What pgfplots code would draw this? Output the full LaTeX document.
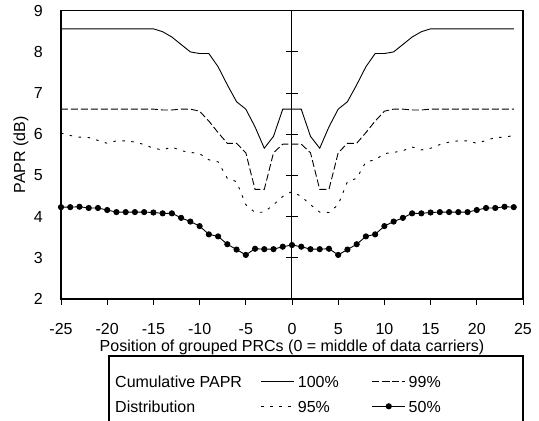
\documentclass[border=0pt]{standalone}
\usepackage{fontspec}
\setmainfont{Liberation Sans}
\usepackage{pgfplots}
\usepackage{pgfplotstable}
\pgfplotsset{compat=1.18}

% cumulative PAPR (dB) per position of the grouped PRCs
\pgfplotstableread{
x   p100 p99  p95  p50
-25 8.56 6.61 6.03 4.23
-24 8.56 6.61 5.97 4.23
-23 8.56 6.61 5.93 4.24
-22 8.56 6.61 5.92 4.21
-21 8.56 6.61 5.85 4.21
-20 8.56 6.61 5.78 4.16
-19 8.56 6.61 5.84 4.11
-18 8.56 6.61 5.84 4.11
-17 8.56 6.61 5.81 4.11
-16 8.56 6.61 5.75 4.11
-15 8.56 6.61 5.66 4.10
-14 8.49 6.59 5.62 4.08
-13 8.36 6.59 5.69 4.08
-12 8.18 6.61 5.60 3.97
-11 8.00 6.61 5.56 3.88
-10 7.96 6.56 5.53 3.77
-9  7.96 6.32 5.38 3.57
-8  7.64 6.04 5.33 3.52
-7  7.20 5.78 4.93 3.33
-6  6.79 5.78 4.85 3.20
-5  6.61 5.55 4.29 3.07
-4  6.18 4.66 4.10 3.22
-3  5.66 4.66 4.11 3.21
-2  5.95 5.55 4.29 3.21
-1  6.61 5.76 4.49 3.27
0   6.61 5.76 4.61 3.31
1   6.61 5.76 4.49 3.27
2   5.95 5.55 4.29 3.21
3   5.66 4.66 4.11 3.21
4   6.18 4.66 4.10 3.22
5   6.61 5.55 4.29 3.07
6   6.79 5.78 4.85 3.20
7   7.20 5.78 4.93 3.33
8   7.64 6.04 5.33 3.52
9   7.96 6.32 5.38 3.57
10  7.96 6.56 5.53 3.77
11  8.00 6.61 5.56 3.88
12  8.18 6.61 5.60 3.97
13  8.36 6.59 5.69 4.08
14  8.49 6.59 5.62 4.08
15  8.56 6.61 5.66 4.10
16  8.56 6.61 5.75 4.11
17  8.56 6.61 5.81 4.11
18  8.56 6.61 5.84 4.11
19  8.56 6.61 5.84 4.11
20  8.56 6.61 5.78 4.16
21  8.56 6.61 5.85 4.21
22  8.56 6.61 5.92 4.21
23  8.56 6.61 5.93 4.24
24  8.56 6.61 5.97 4.23
}\paprdata

\begin{document}
\fontsize{16}{19}\selectfont
\begin{tikzpicture}
\useasboundingbox (0,0) rectangle (539pt,421pt);
\begin{axis}[
  at={(61pt,122pt)}, anchor=south west,
  scale only axis, width=462pt, height=288.3pt,
  xmin=-25, xmax=25, ymin=2, ymax=9,
  xtick={-25,-20,...,25}, ytick={2,3,...,9},
  /pgf/number format/assume math mode=true,
  axis line style={line width=1.1pt},
  tick align=outside, xtick pos=bottom, ytick pos=left,
  major tick length=6pt,
  x tick style={black, line width=0.9pt},
  y tick style={draw=none},
  xticklabel style={anchor=base, yshift=-29.7pt, inner sep=0pt},
  yticklabel style={anchor=east, xshift=-12pt, inner sep=0pt},
  xlabel={Position of grouped PRCs (0 = middle of data carriers)},
  ylabel={PAPR (dB)},
  xlabel style={at={(axis description cs:0.5,-0.1665)}, anchor=center},
  ylabel style={at={(axis description cs:-0.0866,0.5)}, anchor=center},
  legend columns=2,
  legend cell align=left,
  legend image code/.code={%
    \draw[mark repeat=2,mark phase=2,#1] plot coordinates {(0pt,0pt) (16.5pt,0pt) (33pt,0pt)};},
  legend style={at={(0.4329,-0.2655)}, anchor=north west, draw=none, fill=none,
    inner sep=0pt, outer sep=0pt, row sep=13.5pt,
    nodes={inner sep=0pt, text height=11.5pt, text depth=0pt},
    /tikz/every odd column/.append style={column sep=3pt},
    /tikz/every even column/.append style={column sep=33pt}},
]
\draw[line width=1pt] (axis cs:0,2) -- (axis cs:0,9);
\pgfplotsinvokeforeach{3,...,8}{
  \draw[line width=1pt] ([xshift=-6pt]axis cs:0,#1) -- ([xshift=6pt]axis cs:0,#1);
}
\addplot[black, line width=0.9pt] table[x=x, y=p100] {\paprdata};
\addlegendentry{100\%}
\addplot[black, line width=0.9pt, dash pattern=on 7pt off 3pt] table[x=x, y=p99] {\paprdata};
\addlegendentry{99\%}
\addplot[black, line width=0.9pt, dash pattern=on 2.5pt off 6.5pt] table[x=x, y=p95] {\paprdata};
\addlegendentry{95\%}
\addplot[black, line width=0.9pt, mark=*, mark size=2.6pt] table[x=x, y=p50] {\paprdata};
\addlegendentry{50\%}
\end{axis}
\draw[line width=1.1pt] (109pt,65pt) rectangle (523pt,-20pt);
\node[anchor=base west, inner sep=0pt] at (115pt,34pt) {Cumulative PAPR};
\node[anchor=base west, inner sep=0pt] at (115pt,9pt) {Distribution};
\end{tikzpicture}
\end{document}
